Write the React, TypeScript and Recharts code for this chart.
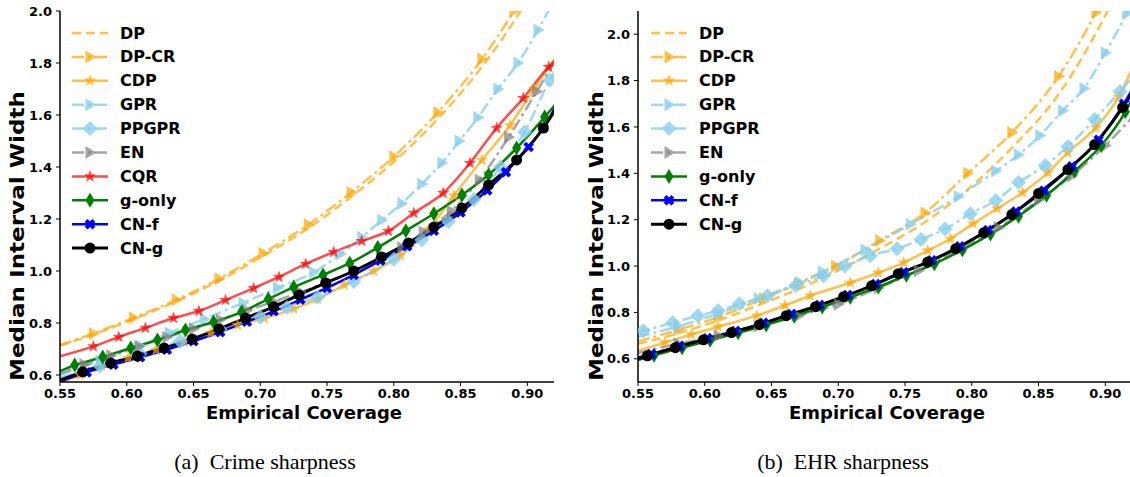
import React from 'react'
import { LineChart, Line, XAxis, YAxis } from 'recharts'

type Pt = [number, number]

// ---- Crime sharpness: [empirical coverage, median interval width] ----
const CRIME_DP: Pt[] = [[0.55, 0.713], [0.575, 0.755], [0.605, 0.815], [0.637, 0.883], [0.669, 0.962], [0.702, 1.058], [0.736, 1.165], [0.768, 1.285], [0.8, 1.42], [0.833, 1.585], [0.866, 1.785], [0.895, 2.0], [0.91, 2.13]]
const CRIME_DPCR: Pt[] = [[0.55, 0.715], [0.575, 0.76], [0.605, 0.82], [0.637, 0.889], [0.669, 0.97], [0.702, 1.068], [0.736, 1.178], [0.768, 1.302], [0.8, 1.44], [0.833, 1.61], [0.866, 1.815], [0.89, 2.0], [0.905, 2.13]]
const CRIME_CDP: Pt[] = [[0.55, 0.57], [0.565, 0.6], [0.581, 0.635], [0.601, 0.665], [0.622, 0.696], [0.643, 0.727], [0.663, 0.762], [0.683, 0.792], [0.703, 0.818], [0.725, 0.855], [0.743, 0.892], [0.763, 0.946], [0.785, 1.0], [0.805, 1.06], [0.826, 1.16], [0.845, 1.29], [0.866, 1.427], [0.887, 1.56], [0.905, 1.7], [0.921, 1.82]]
const CRIME_GPR: Pt[] = [[0.55, 0.6], [0.58, 0.655], [0.61, 0.712], [0.632, 0.762], [0.658, 0.815], [0.687, 0.877], [0.713, 0.935], [0.74, 0.995], [0.76, 1.065], [0.776, 1.13], [0.791, 1.196], [0.806, 1.26], [0.821, 1.335], [0.836, 1.415], [0.849, 1.5], [0.863, 1.59], [0.878, 1.7], [0.893, 1.8], [0.908, 1.927], [0.925, 2.09]]
const CRIME_PPGPR: Pt[] = [[0.55, 0.59], [0.58, 0.635], [0.61, 0.682], [0.64, 0.73], [0.67, 0.775], [0.7, 0.823], [0.72, 0.86], [0.743, 0.9], [0.77, 0.96], [0.8, 1.045], [0.821, 1.12], [0.841, 1.19], [0.86, 1.275], [0.88, 1.4], [0.898, 1.535], [0.917, 1.735], [0.921, 1.77]]
const CRIME_EN: Pt[] = [[0.55, 0.605], [0.568, 0.64], [0.588, 0.675], [0.609, 0.71], [0.63, 0.745], [0.65, 0.778], [0.67, 0.812], [0.69, 0.848], [0.71, 0.882], [0.73, 0.918], [0.75, 0.957], [0.77, 0.998], [0.79, 1.045], [0.806, 1.09], [0.822, 1.15], [0.843, 1.23], [0.864, 1.35], [0.886, 1.515], [0.907, 1.69], [0.921, 1.81]]
const CRIME_CQR: Pt[] = [[0.55, 0.672], [0.575, 0.71], [0.594, 0.746], [0.614, 0.781], [0.635, 0.819], [0.654, 0.846], [0.674, 0.888], [0.695, 0.934], [0.714, 0.977], [0.734, 1.027], [0.755, 1.073], [0.776, 1.115], [0.796, 1.154], [0.815, 1.223], [0.837, 1.3], [0.857, 1.415], [0.877, 1.55], [0.897, 1.665], [0.916, 1.785], [0.921, 1.81]]
const CRIME_GONLY: Pt[] = [[0.55, 0.615], [0.561, 0.638], [0.582, 0.669], [0.603, 0.704], [0.623, 0.735], [0.644, 0.773], [0.665, 0.804], [0.686, 0.842], [0.706, 0.892], [0.725, 0.938], [0.747, 0.985], [0.767, 1.03], [0.788, 1.09], [0.809, 1.155], [0.83, 1.22], [0.851, 1.292], [0.871, 1.37], [0.892, 1.473], [0.913, 1.592], [0.921, 1.64]]
const CRIME_CNF: Pt[] = [[0.55, 0.575], [0.57, 0.61], [0.59, 0.64], [0.61, 0.668], [0.63, 0.697], [0.65, 0.73], [0.67, 0.765], [0.69, 0.805], [0.71, 0.845], [0.73, 0.89], [0.75, 0.935], [0.77, 0.985], [0.79, 1.04], [0.81, 1.095], [0.83, 1.155], [0.85, 1.225], [0.87, 1.31], [0.884, 1.38], [0.901, 1.477], [0.912, 1.55], [0.921, 1.63]]
const CRIME_CNG: Pt[] = [[0.55, 0.58], [0.567, 0.612], [0.588, 0.646], [0.608, 0.673], [0.628, 0.704], [0.649, 0.738], [0.669, 0.777], [0.689, 0.819], [0.71, 0.862], [0.729, 0.908], [0.749, 0.954], [0.77, 1.0], [0.791, 1.054], [0.811, 1.108], [0.83, 1.169], [0.851, 1.242], [0.871, 1.331], [0.892, 1.427], [0.912, 1.55], [0.921, 1.62]]

// ---- EHR sharpness ----
const EHR_DP: Pt[] = [[0.55, 0.665], [0.58, 0.71], [0.61, 0.765], [0.644, 0.84], [0.67, 0.9], [0.698, 0.975], [0.731, 1.075], [0.765, 1.19], [0.797, 1.33], [0.83, 1.51], [0.865, 1.74], [0.9, 2.08], [0.915, 2.25]]
const EHR_DPCR: Pt[] = [[0.55, 0.675], [0.58, 0.725], [0.61, 0.78], [0.644, 0.86], [0.67, 0.925], [0.698, 1.0], [0.731, 1.11], [0.765, 1.23], [0.797, 1.4], [0.83, 1.576], [0.865, 1.818], [0.893, 2.095], [0.91, 2.3]]
const EHR_CDP: Pt[] = [[0.55, 0.634], [0.57, 0.67], [0.59, 0.705], [0.61, 0.738], [0.639, 0.786], [0.66, 0.83], [0.679, 0.872], [0.709, 0.928], [0.73, 0.971], [0.749, 1.015], [0.767, 1.067], [0.784, 1.118], [0.801, 1.183], [0.819, 1.248], [0.838, 1.317], [0.857, 1.403], [0.872, 1.49], [0.893, 1.598], [0.91, 1.73], [0.92, 1.85]]
const EHR_GPR: Pt[] = [[0.55, 0.695], [0.58, 0.74], [0.61, 0.795], [0.64, 0.86], [0.671, 0.93], [0.688, 0.975], [0.72, 1.07], [0.754, 1.18], [0.79, 1.3], [0.818, 1.41], [0.835, 1.48], [0.851, 1.563], [0.868, 1.67], [0.884, 1.766], [0.9, 1.92], [0.916, 2.09], [0.925, 2.2]]
const EHR_PPGPR: Pt[] = [[0.55, 0.715], [0.554, 0.721], [0.576, 0.756], [0.595, 0.786], [0.61, 0.807], [0.626, 0.837], [0.647, 0.872], [0.668, 0.915], [0.689, 0.958], [0.705, 1.0], [0.724, 1.045], [0.744, 1.075], [0.762, 1.115], [0.78, 1.16], [0.799, 1.226], [0.818, 1.283], [0.835, 1.36], [0.855, 1.434], [0.872, 1.516], [0.892, 1.632], [0.911, 1.753], [0.92, 1.81]]
const EHR_EN: Pt[] = [[0.55, 0.625], [0.58, 0.665], [0.61, 0.7], [0.64, 0.74], [0.67, 0.785], [0.7, 0.835], [0.73, 0.905], [0.76, 0.98], [0.79, 1.07], [0.82, 1.165], [0.85, 1.285], [0.875, 1.39], [0.9, 1.52], [0.92, 1.64]]
const EHR_GONLY: Pt[] = [[0.55, 0.595], [0.562, 0.615], [0.583, 0.648], [0.604, 0.68], [0.625, 0.712], [0.646, 0.746], [0.667, 0.784], [0.688, 0.823], [0.709, 0.865], [0.73, 0.91], [0.751, 0.96], [0.772, 1.01], [0.793, 1.07], [0.814, 1.138], [0.835, 1.215], [0.856, 1.305], [0.877, 1.41], [0.897, 1.52], [0.915, 1.665], [0.92, 1.72]]
const EHR_CNF: Pt[] = [[0.55, 0.605], [0.56, 0.62], [0.581, 0.655], [0.602, 0.688], [0.623, 0.72], [0.644, 0.755], [0.665, 0.793], [0.686, 0.832], [0.707, 0.875], [0.728, 0.922], [0.749, 0.973], [0.77, 1.025], [0.791, 1.085], [0.812, 1.155], [0.833, 1.235], [0.854, 1.325], [0.875, 1.43], [0.895, 1.545], [0.914, 1.7], [0.92, 1.76]]
const EHR_CNG: Pt[] = [[0.55, 0.6], [0.557, 0.613], [0.578, 0.648], [0.599, 0.682], [0.62, 0.713], [0.641, 0.747], [0.661, 0.786], [0.683, 0.825], [0.704, 0.868], [0.725, 0.915], [0.745, 0.967], [0.767, 1.017], [0.788, 1.075], [0.809, 1.144], [0.83, 1.222], [0.85, 1.313], [0.872, 1.416], [0.892, 1.524], [0.913, 1.684], [0.92, 1.745]]

const X_TICKS = [0.55, 0.6, 0.65, 0.7, 0.75, 0.8, 0.85, 0.9]
const Y_TICKS = [0.6, 0.8, 1.0, 1.2, 1.4, 1.6, 1.8, 2.0]

const ORANGE = 'rgba(255,165,0,0.7)'
const SKY = 'rgba(135,206,235,0.8)'
const GREY = 'rgba(128,128,128,0.7)'
const RED = 'rgba(255,0,0,0.7)'
const DASH = '9 5'
const DASHDOT = '12 4 3 4'
const FONT = 'DejaVu Sans, sans-serif'

type MarkerKind = 'none' | 'tri' | 'star' | 'diamond' | 'thin' | 'x' | 'circle'
interface Style { color: string; dash?: string; width: number; marker: MarkerKind }

const STYLES: Record<string, Style> = {
  'DP':     { color: ORANGE, dash: DASH,    width: 2.5, marker: 'none' },
  'DP-CR':  { color: ORANGE, dash: DASHDOT, width: 2.5, marker: 'tri' },
  'CDP':    { color: ORANGE,                width: 2.5, marker: 'star' },
  'GPR':    { color: SKY,    dash: DASHDOT, width: 2.5, marker: 'tri' },
  'PPGPR':  { color: SKY,    dash: DASHDOT, width: 2.5, marker: 'diamond' },
  'EN':     { color: GREY,   dash: DASHDOT, width: 2.5, marker: 'tri' },
  'CQR':    { color: RED,                   width: 2.5, marker: 'star' },
  'g-only': { color: '#008000',             width: 2.5, marker: 'thin' },
  'CN-f':   { color: '#0000ff',             width: 2.5, marker: 'x' },
  'CN-g':   { color: '#000000',             width: 3,   marker: 'circle' },
}

const CRIME_SERIES: [string, Pt[]][] = [
  ['DP', CRIME_DP], ['DP-CR', CRIME_DPCR], ['CDP', CRIME_CDP], ['GPR', CRIME_GPR],
  ['PPGPR', CRIME_PPGPR], ['EN', CRIME_EN], ['CQR', CRIME_CQR], ['g-only', CRIME_GONLY],
  ['CN-f', CRIME_CNF], ['CN-g', CRIME_CNG],
]
const EHR_SERIES: [string, Pt[]][] = [
  ['DP', EHR_DP], ['DP-CR', EHR_DPCR], ['CDP', EHR_CDP], ['GPR', EHR_GPR],
  ['PPGPR', EHR_PPGPR], ['EN', EHR_EN], ['g-only', EHR_GONLY],
  ['CN-f', EHR_CNF], ['CN-g', EHR_CNG],
]

function starPoints(cx: number, cy: number, r: number) {
  const pts: string[] = []
  for (let i = 0; i < 10; i++) {
    const rr = i % 2 === 0 ? r : r * 0.42
    const a = -Math.PI / 2 + (i * Math.PI) / 5
    pts.push(`${cx + rr * Math.cos(a)},${cy + rr * Math.sin(a)}`)
  }
  return pts.join(' ')
}

function xPoints(cx: number, cy: number, r: number, w: number) {
  // filled X: plus sign rotated 45 degrees
  const base: [number, number][] = [
    [-w, -r], [w, -r], [w, -w], [r, -w], [r, w], [w, w],
    [w, r], [-w, r], [-w, w], [-r, w], [-r, -w], [-w, -w],
  ]
  const c = Math.SQRT1_2
  return base.map(([x, y]) => `${cx + (x - y) * c},${cy + (x + y) * c}`).join(' ')
}

function Marker({ kind, cx, cy, color }: { kind: MarkerKind; cx: number; cy: number; color: string }) {
  switch (kind) {
    case 'circle':
      return <circle cx={cx} cy={cy} r={5.5} fill={color} />
    case 'tri':
      return <polygon points={`${cx + 6.5},${cy} ${cx - 4.5},${cy - 6.5} ${cx - 4.5},${cy + 6.5}`} fill={color} />
    case 'diamond':
      return <polygon points={`${cx},${cy - 7.5} ${cx + 7.5},${cy} ${cx},${cy + 7.5} ${cx - 7.5},${cy}`} fill={color} />
    case 'thin':
      return <polygon points={`${cx},${cy - 7.5} ${cx + 4.5},${cy} ${cx},${cy + 7.5} ${cx - 4.5},${cy}`} fill={color} />
    case 'star':
      return <polygon points={starPoints(cx, cy, 6.5)} fill={color} />
    case 'x':
      return <polygon points={xPoints(cx, cy, 5.5, 2)} fill={color} />
    default:
      return null
  }
}

function Panel({ series, yDomain }: { series: [string, Pt[]][]; yDomain: [number, number] }) {
  const tick = { fill: '#000', fontSize: 13, fontWeight: 'bold' as const, fontFamily: FONT }
  return (
    <LineChart width={560} height={400} margin={{ top: 11, right: 6, left: 0, bottom: 0 }}>
      <XAxis
        dataKey="x"
        type="number"
        domain={[0.55, 0.92]}
        ticks={X_TICKS}
        allowDataOverflow
        height={18}
        tickSize={4}
        tickMargin={3}
        tick={tick}
        tickFormatter={(v: number) => v.toFixed(2)}
        axisLine={{ stroke: '#000', strokeWidth: 1.5 }}
        tickLine={{ stroke: '#000' }}
      />
      <YAxis
        type="number"
        domain={yDomain}
        ticks={Y_TICKS}
        allowDataOverflow
        width={60}
        tickSize={4}
        tickMargin={4}
        tick={tick}
        tickFormatter={(v: number) => v.toFixed(1)}
        axisLine={{ stroke: '#000', strokeWidth: 1.5 }}
        tickLine={{ stroke: '#000' }}
      />
      <XAxis xAxisId="top" orientation="top" type="number" domain={[0, 1]} height={0}
        tick={false} tickLine={false} axisLine={{ stroke: '#444', strokeWidth: 1.5 }} />
      <YAxis yAxisId="right" orientation="right" type="number" domain={[0, 1]} width={0}
        tick={false} tickLine={false} axisLine={{ stroke: '#222', strokeWidth: 1.5 }} />
      {series.map(([name, pts]) => {
        const s = STYLES[name]
        const data = pts.map(([x, y]) => ({ x, y }))
        return (
          <Line
            key={name}
            data={data}
            dataKey="y"
            type="monotone"
            stroke={s.color}
            strokeWidth={s.width}
            strokeDasharray={s.dash}
            isAnimationActive={false}
            activeDot={false}
            dot={(p: any) =>
              p.index === 0 || p.index === data.length - 1 || s.marker === 'none'
                ? <g key={`${name}-${p.index}`} />
                : <Marker key={`${name}-${p.index}`} kind={s.marker} cx={p.cx} cy={p.cy} color={s.color} />
            }
          />
        )
      })}
    </LineChart>
  )
}

function Legend({ names, x, y }: { names: string[]; x: number; y: number }) {
  return (
    <g transform={`translate(${x},${y})`}>
      {names.map((name, i) => {
        const s = STYLES[name]
        const cy = i * 23.9
        return (
          <g key={name}>
            <line x1={0} x2={36} y1={cy} y2={cy} stroke={s.color} strokeWidth={s.width}
              strokeDasharray={s.dash} />
            <Marker kind={s.marker} cx={18} cy={cy} color={s.color} />
            <text x={48} y={cy} dominantBaseline="central" fontFamily={FONT} fontWeight="bold"
              fontSize={16} fill="#000">{name}</text>
          </g>
        )
      })}
    </g>
  )
}

export default function App() {
  const labelStyle = { fontFamily: FONT, fontWeight: 'bold' as const, fill: '#000' }
  return (
    <div style={{ position: 'absolute', left: 0, top: 0, width: 1130, height: 477, overflow: 'hidden', background: '#fff' }}>
      <div style={{ position: 'absolute', left: 0, top: 0 }}>
        <Panel series={CRIME_SERIES} yDomain={[0.573, 2.0]} />
      </div>
      <div style={{ position: 'absolute', left: 578, top: 0 }}>
        <Panel series={EHR_SERIES} yDomain={[0.5, 2.1]} />
      </div>
      <svg width={1130} height={477} style={{ position: 'absolute', left: 0, top: 0, pointerEvents: 'none' }}>
        <Legend names={CRIME_SERIES.map(d => d[0])} x={72} y={33} />
        <Legend names={EHR_SERIES.map(d => d[0])} x={651} y={33} />
        <text transform="translate(17,236) rotate(-90)" textAnchor="middle" dominantBaseline="central"
          fontSize={20} textLength={290} lengthAdjust="spacingAndGlyphs" {...labelStyle}>Median Interval Width</text>
        <text transform="translate(596,236) rotate(-90)" textAnchor="middle" dominantBaseline="central"
          fontSize={20} textLength={290} lengthAdjust="spacingAndGlyphs" {...labelStyle}>Median Interval Width</text>
        <text x={304} y={412} textAnchor="middle" dominantBaseline="central" fontSize={18} {...labelStyle}>Empirical Coverage</text>
        <text x={887} y={412} textAnchor="middle" dominantBaseline="central" fontSize={18} {...labelStyle}>Empirical Coverage</text>
        <text x={265} y={461} textAnchor="middle" dominantBaseline="central" fontSize={22}
          fontFamily="Liberation Serif, serif" fill="#000" style={{ whiteSpace: 'pre' }}>(a)  Crime sharpness</text>
        <text x={843} y={461} textAnchor="middle" dominantBaseline="central" fontSize={22}
          fontFamily="Liberation Serif, serif" fill="#000" style={{ whiteSpace: 'pre' }}>(b)  EHR sharpness</text>
      </svg>
    </div>
  )
}
